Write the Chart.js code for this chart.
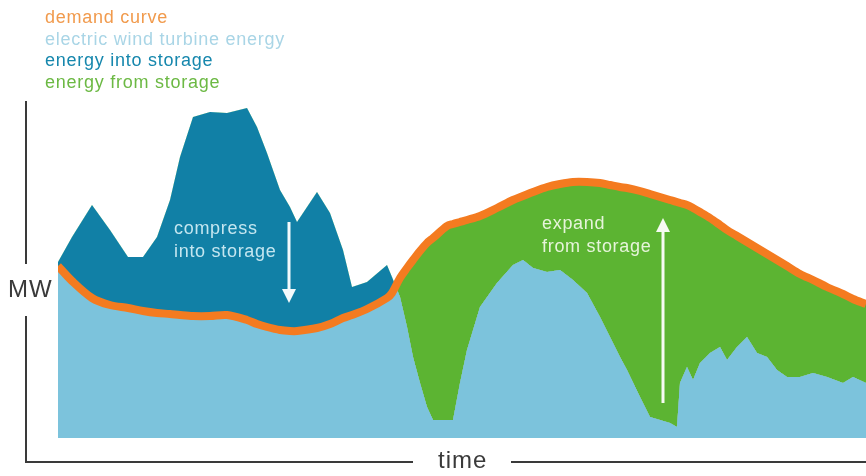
<!DOCTYPE html>
<html>
<head>
<meta charset="utf-8">
<title>Wind energy storage</title>
<script src="https://cdn.jsdelivr.net/npm/chart.js@4.4.1/dist/chart.umd.min.js"></script>
<style>
    body { margin: 0; background: #fff; font-family: "Liberation Sans", Arial, sans-serif; }
    #wrap { position: relative; width: 866px; height: 476px; overflow: hidden; }
    #chart { position: absolute; left: 0; top: 0; }
    .legend { position: absolute; left: 45px; top: 7px; font-size: 18px; line-height: 21.5px; letter-spacing: 0.75px; }
    .lbl { position: absolute; white-space: nowrap; }
    .axis-lbl { font-size: 24px; line-height: 24px; color: #3a3a3a; letter-spacing: 1px; }
    .note { font-size: 18px; line-height: 23px; letter-spacing: 0.7px; }
</style>
</head>
<body>
<div id="wrap">
    <canvas id="chart" width="866" height="476"></canvas>
    <div class="legend">
        <div style="color:#f19a4c">demand curve</div>
        <div style="color:#a9d5e6">electric wind turbine energy</div>
        <div style="color:#1687ad">energy into storage</div>
        <div style="color:#6cb944">energy from storage</div>
    </div>
    <div class="lbl axis-lbl" style="left:8px; top:277px;">MW</div>
    <div class="lbl axis-lbl" style="left:438px; top:448px;">time</div>
    <div class="lbl note" style="left:174px; top:217px; color:#c4e6f0;">compress<br>into storage</div>
    <div class="lbl note" style="left:542px; top:212px; color:#e6f4da;">expand<br>from storage</div>
</div>
<script>
// time steps (arbitrary units) and MW readings
const time = [0, 14, 34, 52, 70, 85, 99, 112, 122, 135, 152, 169, 189, 199, 209, 222, 232, 239, 259, 272,
    285, 294, 309, 329, 334, 342, 349, 355, 362, 369, 375, 389, 395, 402, 409, 422, 439, 455, 465, 475,
    489, 502, 515, 529, 542, 552, 562, 569, 582, 592, 602, 612, 619, 622, 629, 635, 642, 652, 662, 669,
    679, 689, 699, 709, 719, 729, 742, 755, 769, 785, 795, 808];

const demand = [172, 157, 140, 133, 130, 127, 125, 124, 123, 122, 122, 123, 118, 114, 111, 108, 107, 107, 110, 114,
    120, 123, 129, 140, 145, 160, 170, 178, 187, 195, 200, 212, 214, 216, 218, 222, 230, 238, 242, 246,
    251, 254, 256, 256, 255, 253, 251, 250, 247, 244, 241, 238, 236, 235, 233, 230, 226, 220, 213, 208,
    202, 196, 190, 184, 178, 172, 164, 158, 151, 144, 139, 134];

const wind = [176, 201, 233, 208, 181, 181, 201, 238, 281, 321, 326, 325, 330, 311, 285, 248, 231, 216, 246, 225,
    188, 151, 156, 173, 161, 141, 111, 81, 55, 31, 18, 18, 18, 55, 88, 131, 155, 173, 178, 170,
    166, 168, 158, 145, 121, 101, 81, 68, 41, 21, 18, 15, 11, 55, 71, 58, 75, 85, 91, 78,
    91, 101, 85, 81, 68, 61, 61, 65, 61, 55, 61, 55];

// annotation arrows: [time, from MW, to MW]
const compressArrow = [231, 216, 135];
const expandArrow = [605, 35, 220];

const colors = {
    demand: '#f47b20',
    wind: '#7cc3dc',
    intoStorage: '#1180a6',
    fromStorage: '#5cb432'
};

// axis lines with gaps for MW / time labels, plus the white arrows
const decorPlugin = {
    id: 'decor',
    afterDatasetsDraw(chart) {
        const ctx = chart.ctx;
        const xs = chart.scales.x;
        const ys = chart.scales.y;

        const arrow = (a, color) => {
            const x = xs.getPixelForValue(a[0]);
            const y0 = ys.getPixelForValue(a[1]);
            const y1 = ys.getPixelForValue(a[2]);
            const dir = y1 > y0 ? 1 : -1;
            ctx.save();
            ctx.strokeStyle = color;
            ctx.fillStyle = color;
            ctx.lineWidth = 3;
            ctx.beginPath();
            ctx.moveTo(x, y0);
            ctx.lineTo(x, y1 - dir * 10);
            ctx.stroke();
            ctx.beginPath();
            ctx.moveTo(x, y1);
            ctx.lineTo(x - 7, y1 - dir * 14);
            ctx.lineTo(x + 7, y1 - dir * 14);
            ctx.closePath();
            ctx.fill();
            ctx.restore();
        };
        arrow(compressArrow, '#f4fafc');
        arrow(expandArrow, '#f6fbf2');
    },
    afterDraw(chart) {
        const ctx = chart.ctx;
        ctx.save();
        ctx.strokeStyle = '#3a3a3a';
        ctx.lineWidth = 2;
        ctx.beginPath();
        ctx.moveTo(26, 101);
        ctx.lineTo(26, 264);
        ctx.moveTo(26, 316);
        ctx.lineTo(26, 462);
        ctx.lineTo(413, 462);
        ctx.moveTo(511, 462);
        ctx.lineTo(866, 462);
        ctx.stroke();
        ctx.restore();
    }
};

document.addEventListener('DOMContentLoaded', () => {
    const points = (arr) => time.map((t, i) => ({ x: t, y: arr[i] }));

    new Chart(
        document.getElementById('chart').getContext('2d'),
        {
            type: 'line',
            data: {
                datasets: [
                    {
                        // demand line; fill between demand and wind
                        label: 'demand curve',
                        data: points(demand),
                        borderColor: colors.demand,
                        borderWidth: 8,
                        tension: 0.3,
                        pointRadius: 0,
                        fill: { target: 1, above: colors.fromStorage, below: colors.intoStorage }
                    },
                    {
                        label: 'electric wind turbine energy',
                        data: points(wind),
                        borderWidth: 0,
                        borderColor: 'rgba(0,0,0,0)',
                        backgroundColor: colors.wind,
                        tension: 0,
                        pointRadius: 0,
                        fill: 'origin'
                    }
                ]
            },
            options: {
                responsive: false,
                animation: false,
                layout: { padding: { left: 58, right: 0, top: 100, bottom: 38 } },
                plugins: {
                    legend: { display: false },
                    tooltip: { enabled: false }
                },
                scales: {
                    x: { type: 'linear', min: 0, max: 808, display: false },
                    y: { min: 0, max: 338, display: false }
                }
            },
            plugins: [decorPlugin]
        }
    );
});
</script>
</body>
</html>
